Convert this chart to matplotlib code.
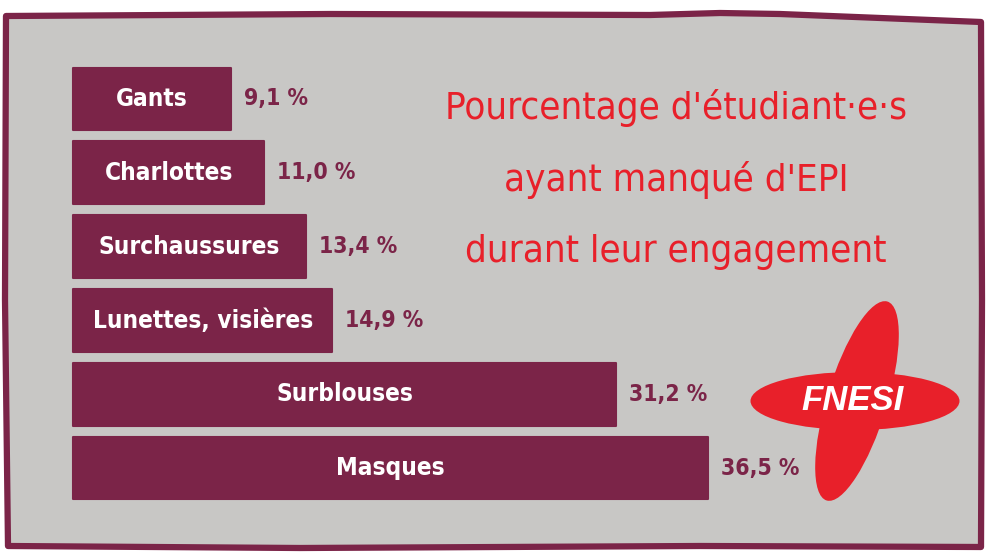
import numpy as np
import matplotlib
matplotlib.use("Agg")
import matplotlib.pyplot as plt
from matplotlib.patches import Ellipse, Polygon

# data
categories = ["Gants", "Charlottes", "Surchaussures", "Lunettes, visières", "Surblouses", "Masques"]
values = [9.1, 11.0, 13.4, 14.9, 31.2, 36.5]
value_labels = ["9,1 %", "11,0 %", "13,4 %", "14,9 %", "31,2 %", "36,5 %"]
title_lines = ["Pourcentage d'étudiant·e·s", "ayant manqué d'EPI", "durant leur engagement"]

BAR = "#7b2448"
GREY = "#c8c7c5"
RED = "#e8202a"
FONT = ["DejaVu Sans"]

W, H = 987, 555
fig = plt.figure(figsize=(W / 100, H / 100), dpi=100)
fig.patch.set_facecolor("white")

# frame (pixel coords)
bg = fig.add_axes([0, 0, 1, 1])
bg.set_xlim(0, W)
bg.set_ylim(H, 0)
bg.axis("off")
frame = Polygon([[6, 16], [330, 14], [650, 15], [720, 13], [780, 14], [981, 22],
                 [982, 300], [981, 547], [700, 546], [300, 548], [8, 546], [5, 300]],
                closed=True, facecolor=GREY, edgecolor=BAR, linewidth=4.5, joinstyle="round")
bg.add_patch(frame)

# bars
ax = fig.add_axes([0, 0, 1, 1])
ax.patch.set_alpha(0)
px = 17.4  # pixels per percent
ax.set_xlim(-73 / px, (W - 73) / px)
step = 73.8
ax.set_ylim((H - 99) / step, -99 / step)
ax.axis("off")

y = np.arange(len(categories))
ax.barh(y, values, height=0.85, color=BAR, edgecolor=BAR, linewidth=1.5, joinstyle="round")
for i, (cat, v, lab) in enumerate(zip(categories, values, value_labels)):
    ax.text(v / 2, i, cat, color="white", ha="center", va="center",
            fontsize=17.5, fontweight="bold", family=FONT, fontstretch="condensed")
    ax.text(v + 0.75, i, lab, color=BAR, ha="left", va="center",
            fontsize=16.5, fontweight="bold", family=FONT, fontstretch="condensed")

# title
for j, line in enumerate(title_lines):
    bg.text(676, 108 + 72 * j, line, color=RED, ha="center", va="center",
            fontsize=27.5, family=FONT, fontstretch="condensed")

# FNESI logo
bg.add_patch(Ellipse((855, 401), 209, 58, facecolor=RED, edgecolor="none"))
bg.add_patch(Ellipse((857, 401), 60, 208, angle=17, facecolor=RED, edgecolor="none"))
bg.text(853, 400, "FNESI", color="white", ha="center", va="center",
        fontsize=25, fontweight="bold", fontstyle="italic", family=["Liberation Sans", "DejaVu Sans"])

fig.savefig("out.png", dpi=100)
